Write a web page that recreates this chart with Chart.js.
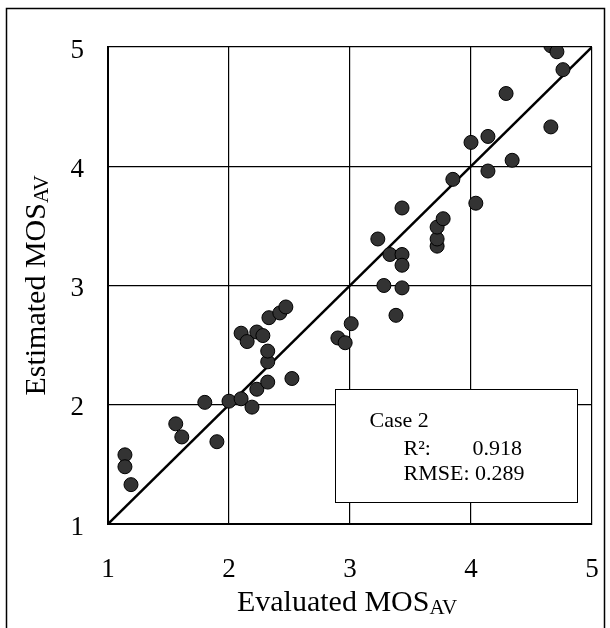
<!DOCTYPE html>
<html>
<head>
<meta charset="utf-8">
<script src="https://cdn.jsdelivr.net/npm/chart.js@4.4.1/dist/chart.umd.min.js"></script>
<style>
  html, body { margin: 0; padding: 0; background: #fff; }
  #wrap { width: 610px; height: 628px; }
</style>
</head>
<body>
<div id="wrap"><canvas id="mosChart" width="610" height="628"></canvas></div>
<script>
// values (evaluated on x, estimated on y)
const evaluatedMOS = [1.14, 1.14, 1.19, 1.56, 1.61, 1.90, 1.80, 2.00, 2.10, 2.19, 2.23, 2.32,
  2.52, 2.32, 2.32, 2.10, 2.15, 2.23, 2.28, 2.33, 2.42, 2.47, 2.90, 2.96, 3.01, 3.38, 3.28,
  3.43, 3.33, 3.43, 3.43, 3.23, 3.43, 3.72, 3.72, 3.72, 3.77, 3.85, 4.04, 4.00, 4.14, 4.14,
  4.34, 4.29, 4.66, 4.66, 4.71, 4.76]
const estimatedMOS = [1.58, 1.48, 1.33, 1.84, 1.73, 1.69, 2.02, 2.03, 2.05, 1.98, 2.13, 2.19,
  2.22, 2.36, 2.45, 2.60, 2.53, 2.61, 2.58, 2.73, 2.77, 2.82, 2.56, 2.52, 2.68, 2.75, 3.00,
  2.98, 3.26, 3.26, 3.17, 3.39, 3.65, 3.33, 3.39, 3.49, 3.56, 3.89, 3.69, 4.20, 4.25, 3.96,
  4.05, 4.61, 4.33, 5.01, 4.96, 4.81]

// y = x reference line
const lineX = [1, 5]
const lineY = [1, 5]

const axisMin = 1
const axisMax = 5

const caseLabel = 'Case 2'
const r2Label = 'R²:'
const r2Value = '0.918'
const rmseLabel = 'RMSE: 0.289'

const serif = '"Liberation Serif", "Times New Roman", serif'

// text with a subscript, centred on x
function drawSubText(ctx, main, sub, x, y, size, subSize) {
    ctx.font = size + 'px ' + serif
    let w1 = ctx.measureText(main).width
    ctx.font = subSize + 'px ' + serif
    let w2 = ctx.measureText(sub).width
    let start = x - (w1 + w2) / 2
    ctx.textAlign = 'left'
    ctx.textBaseline = 'alphabetic'
    ctx.font = size + 'px ' + serif
    ctx.fillText(main, start, y)
    ctx.font = subSize + 'px ' + serif
    ctx.fillText(sub, start + w1, y + 3)
}

const framePlugin = {
    id: 'frame',
    beforeDraw(chart) {
        let ctx = chart.ctx
        ctx.save()
        ctx.fillStyle = '#fff'
        ctx.fillRect(0, 0, chart.width, chart.height)
        ctx.strokeStyle = '#000'
        ctx.lineWidth = 1.5
        ctx.beginPath()
        ctx.moveTo(6.5, chart.height)
        ctx.lineTo(6.5, 8.5)
        ctx.lineTo(604.5, 8.5)
        ctx.lineTo(604.5, chart.height)
        ctx.stroke()
        ctx.restore()
    },
    afterDraw(chart) {
        let ctx = chart.ctx
        let area = chart.chartArea
        let xs = chart.scales.x
        let ys = chart.scales.y
        ctx.save()
        ctx.fillStyle = '#000'

        // axis titles
        drawSubText(ctx, 'Evaluated MOS', 'AV', (area.left + area.right) / 2 - 3, 611, 30, 21)
        ctx.save()
        ctx.translate(45, (area.top + area.bottom) / 2)
        ctx.rotate(-Math.PI / 2)
        drawSubText(ctx, 'Estimated MOS', 'AV', 0, 0, 30, 21)
        ctx.restore()

        // stats box
        let bx1 = xs.getPixelForValue(2.88)
        let bx2 = xs.getPixelForValue(4.88)
        let by1 = ys.getPixelForValue(2.13)
        let by2 = ys.getPixelForValue(1.18)
        ctx.fillStyle = '#fff'
        ctx.fillRect(bx1, by1, bx2 - bx1, by2 - by1)
        ctx.strokeStyle = '#000'
        ctx.lineWidth = 1
        ctx.strokeRect(Math.round(bx1) + 0.5, Math.round(by1) + 0.5, Math.round(bx2 - bx1), Math.round(by2 - by1))

        ctx.fillStyle = '#000'
        ctx.font = '22px ' + serif
        ctx.textAlign = 'left'
        ctx.textBaseline = 'alphabetic'
        ctx.fillText(caseLabel, bx1 + 34, by1 + 38)
        ctx.fillText(r2Label, bx1 + 68, by1 + 66)
        ctx.fillText(r2Value, bx1 + 137, by1 + 66)
        ctx.fillText(rmseLabel, bx1 + 68, by1 + 91)
        ctx.restore()
    }
}

function printChart() {
    let points = evaluatedMOS.map((x, i) => ({ x: x, y: estimatedMOS[i] }))
    let diag = lineX.map((x, i) => ({ x: x, y: lineY[i] }))

    const data = {
        datasets: [
            {
                data: points,
                pointRadius: 7,
                pointHoverRadius: 7,
                backgroundColor: '#333333',
                borderColor: '#000000',
                borderWidth: 1
            },
            {
                data: diag,
                showLine: true,
                borderColor: '#000000',
                borderWidth: 2.5,
                pointRadius: 0
            }
        ]
    }

    const axisCommon = {
        min: axisMin,
        max: axisMax,
        grid: { color: '#000', lineWidth: 1.2, drawTicks: false },
        border: { display: true, color: '#000', width: 2 }
    }

    const options = {
        responsive: false,
        animation: false,
        layout: { padding: { left: 0, top: 47, right: 18, bottom: 0 } },
        plugins: { legend: { display: false }, tooltip: { enabled: false } },
        scales: {
            x: {
                ...axisCommon,
                ticks: { stepSize: 1, padding: 30, color: '#000', font: { family: serif, size: 27 } },
                afterFit: scale => {
                    scale.height = 104
                    // keep the edge labels from eating into the plot width
                    scale.paddingLeft = 0
                    scale.paddingRight = 0
                }
            },
            y: {
                ...axisCommon,
                ticks: { stepSize: 1, padding: 24, labelOffset: 3.5, color: '#000', font: { family: serif, size: 27 } },
                afterFit: scale => {
                    scale.width = 108
                    scale.paddingTop = 0
                    scale.paddingBottom = 0
                }
            }
        }
    }

    new Chart('mosChart', { type: 'scatter', data, options, plugins: [framePlugin] })
}

printChart()
</script>
</body>
</html>
